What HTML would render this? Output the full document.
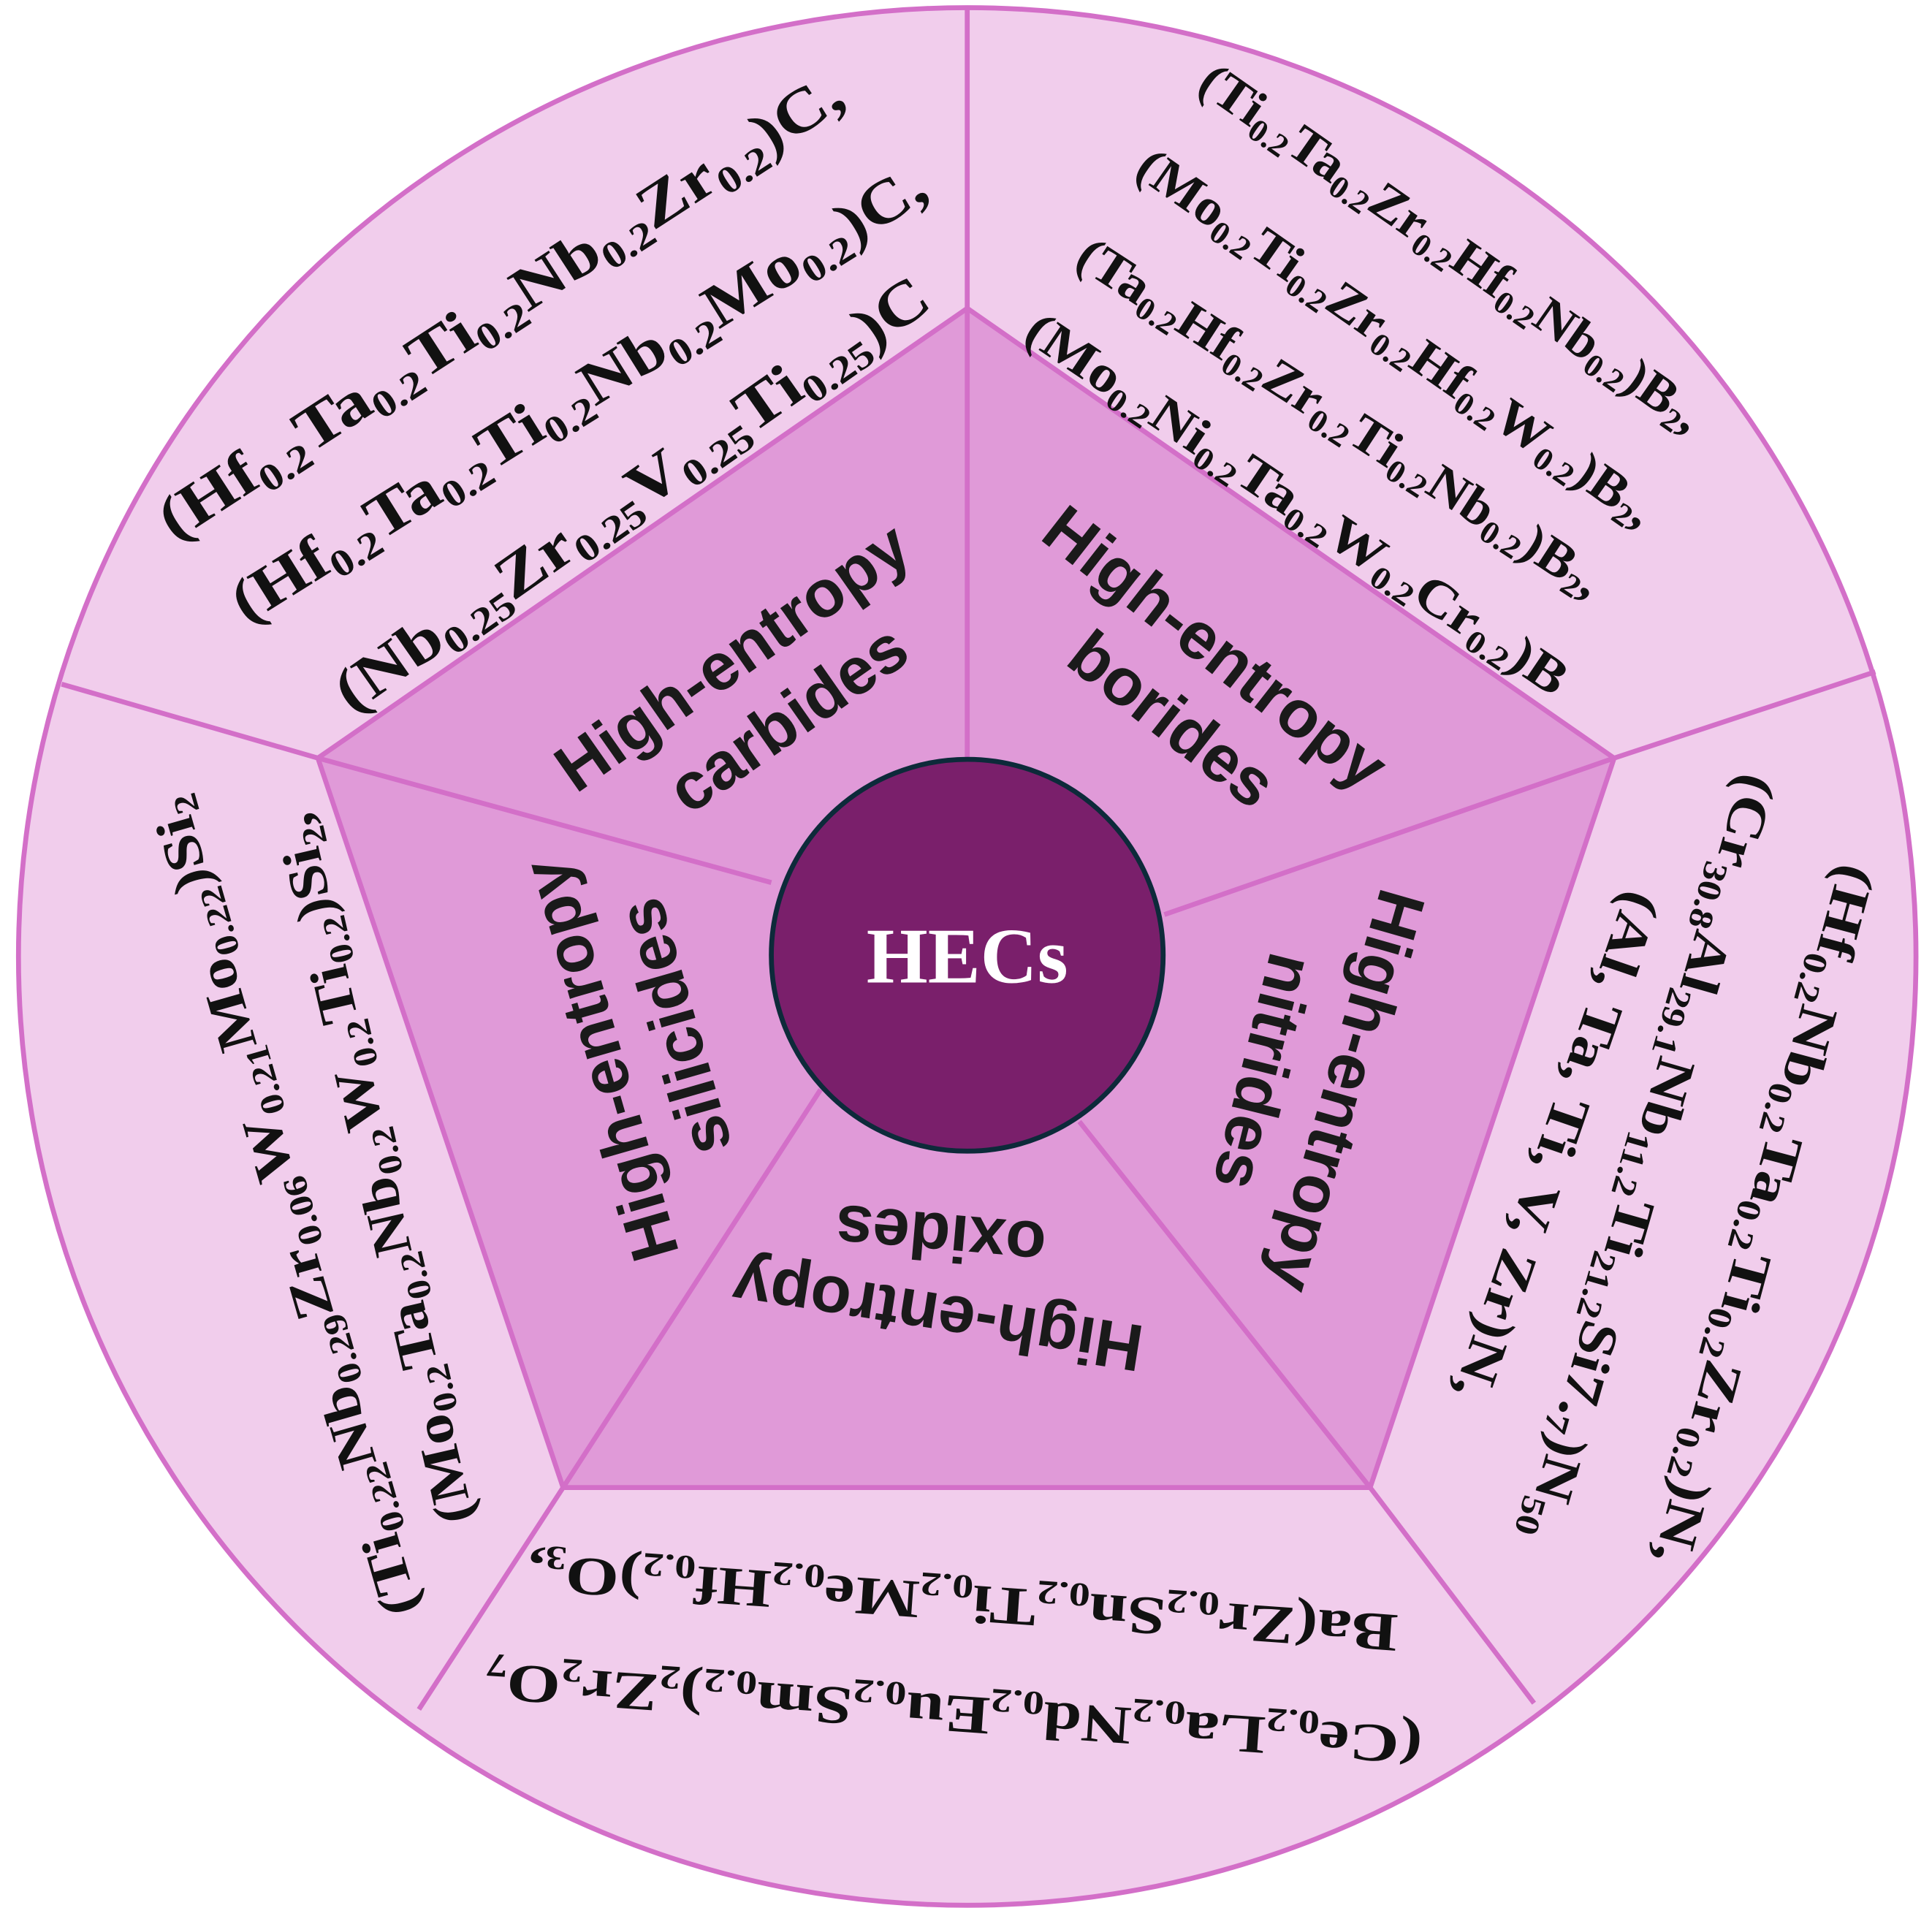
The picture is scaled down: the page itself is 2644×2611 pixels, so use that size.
<!DOCTYPE html>
<html><head><meta charset="utf-8">
<style>
html,body{margin:0;padding:0;background:#fff;}
svg{display:block;}
.f{font-family:"Liberation Serif",serif;font-weight:bold;fill:#111;}
.g{font-family:"Liberation Sans",sans-serif;font-weight:bold;fill:#1a1a1a;font-size:54px;}
.s{font-size:0.62em;baseline-shift:-0.28em;}
</style></head>
<body>
<svg width="2644" height="2611" viewBox="0 0 1568 1548" xmlns="http://www.w3.org/2000/svg">
<rect width="1568" height="1548" fill="#fff"/>
<circle cx="785" cy="776" r="770" fill="#f1cdec" stroke="#d36fc8" stroke-width="4"/>
<g stroke="#d36fc8" stroke-width="4">
<line x1="785" y1="250" x2="785" y2="6"/>
<line x1="1310" y1="615" x2="1522" y2="545"/>
<line x1="1112" y1="1207" x2="1245" y2="1382"/>
<line x1="457" y1="1207" x2="340" y2="1387"/>
<line x1="258" y1="615" x2="50" y2="555"/>
</g>
<polygon points="785,250 1310,615 1112,1207 457,1207 258,615" fill="#e09ad8" stroke="#d36fc8" stroke-width="4"/>
<g stroke="#d36fc8" stroke-width="4">
<line x1="785" y1="250" x2="785" y2="616"/>
<line x1="1310" y1="615" x2="945" y2="742"/>
<line x1="1112" y1="1207" x2="876" y2="910"/>
<line x1="457" y1="1207" x2="666" y2="884"/>
<line x1="258" y1="615" x2="626" y2="716"/>
</g>
<circle cx="785" cy="775" r="159" fill="#7a1f6b" stroke="#0d2a3a" stroke-width="4"/>
<text x="785" y="797" text-anchor="middle" font-family="Liberation Serif,serif" font-weight="bold" font-size="64" fill="#fff">HECs</text>

<g class="f" font-size="50">
<text transform="translate(415,262) rotate(-33)" text-anchor="middle" textLength="652" lengthAdjust="spacingAndGlyphs">(Hf<tspan class="s">0.2</tspan>Ta<tspan class="s">0.2</tspan>Ti<tspan class="s">0.2</tspan>Nb<tspan class="s">0.2</tspan>Zr<tspan class="s">0.2</tspan>)C,</text>
<text transform="translate(478,333) rotate(-32)" text-anchor="middle" textLength="655" lengthAdjust="spacingAndGlyphs">(Hf<tspan class="s">0.2</tspan>Ta<tspan class="s">0.2</tspan>Ti<tspan class="s">0.2</tspan>Nb<tspan class="s">0.2</tspan>Mo<tspan class="s">0.2</tspan>)C,</text>
<text transform="translate(522,414) rotate(-35)" text-anchor="middle" textLength="577" lengthAdjust="spacingAndGlyphs">(Nb<tspan class="s">0.25</tspan>Zr<tspan class="s">0.25</tspan>V<tspan class="s">0.25</tspan>Ti<tspan class="s">0.25</tspan>)C</text>
</g>
<g class="f" font-size="42">
<text transform="translate(1170,212) rotate(35)" text-anchor="middle" textLength="488" lengthAdjust="spacingAndGlyphs">(Ti<tspan class="s">0.2</tspan>Ta<tspan class="s">0.2</tspan>Zr<tspan class="s">0.2</tspan>Hf<tspan class="s">0.2</tspan>Nb<tspan class="s">0.2</tspan>)B<tspan class="s">2</tspan>,</text>
<text transform="translate(1125,285) rotate(35)" text-anchor="middle" textLength="502" lengthAdjust="spacingAndGlyphs">(Mo<tspan class="s">0.2</tspan>Ti<tspan class="s">0.2</tspan>Zr<tspan class="s">0.2</tspan>Hf<tspan class="s">0.2</tspan>W<tspan class="s">0.2</tspan>)B<tspan class="s">2</tspan>,</text>
<text transform="translate(1080,350) rotate(33)" text-anchor="middle" textLength="499" lengthAdjust="spacingAndGlyphs">(Ta<tspan class="s">0.2</tspan>Hf<tspan class="s">0.2</tspan>Zr<tspan class="s">0.2</tspan>Ti<tspan class="s">0.2</tspan>Nb<tspan class="s">0.2</tspan>)B<tspan class="s">2</tspan>,</text>
<text transform="translate(1045,420) rotate(34)" text-anchor="middle" textLength="521" lengthAdjust="spacingAndGlyphs">(Mo<tspan class="s">0.2</tspan>Ni<tspan class="s">0.2</tspan>Ta<tspan class="s">0.2</tspan>W<tspan class="s">0.2</tspan>Cr<tspan class="s">0.2</tspan>)B</text>
</g>
<g class="f" font-size="44">
<text transform="translate(1418,982) rotate(105)" text-anchor="middle" textLength="586" lengthAdjust="spacingAndGlyphs">(Hf<tspan class="s">0.2</tspan>Nb<tspan class="s">0.2</tspan>Ta<tspan class="s">0.2</tspan>Ti<tspan class="s">0.2</tspan>Zr<tspan class="s">0.2</tspan>)N,</text>
<text transform="translate(1325,935) rotate(106)" text-anchor="middle" textLength="644" lengthAdjust="spacingAndGlyphs">(Cr<tspan class="s">30.8</tspan>Al<tspan class="s">29.1</tspan>Nb<tspan class="s">11.2</tspan>Ti<tspan class="s">21.2</tspan>Si7.<tspan class="s">7</tspan>)N<tspan class="s">50</tspan></text>
<text transform="translate(1250,925) rotate(109)" text-anchor="middle" textLength="433" lengthAdjust="spacingAndGlyphs">(Al, Ta, Ti, V, Zr)N,</text>
</g>
<g class="f" font-size="44">
<text transform="translate(782,1286) rotate(184)" text-anchor="middle" textLength="708" lengthAdjust="spacingAndGlyphs">Ba(Zr<tspan class="s">0.2</tspan>Sn<tspan class="s">0.2</tspan>Ti<tspan class="s">0.2</tspan>Me<tspan class="s">0.2</tspan>Hf<tspan class="s">0.2</tspan>)O<tspan class="s">3</tspan>,</text>
<text transform="translate(775,1376) rotate(184)" text-anchor="middle" textLength="762" lengthAdjust="spacingAndGlyphs">(Ce<tspan class="s">0.2</tspan>La<tspan class="s">0.2</tspan>Nd<tspan class="s">0.2</tspan>Eu<tspan class="s">0.2</tspan>Sm<tspan class="s">0.2</tspan>)<tspan class="s">2</tspan>Zr<tspan class="s">2</tspan>O<tspan class="s">7</tspan></text>
</g>
<g class="f" font-size="44">
<text transform="translate(245,975) rotate(-106)" text-anchor="middle" textLength="689" lengthAdjust="spacingAndGlyphs">(Ti<tspan class="s">0.22</tspan>Nb<tspan class="s">0.29</tspan>Zr<tspan class="s">0.06</tspan>W<tspan class="s">0.21</tspan>Mo<tspan class="s">0.22</tspan>)Si<tspan class="s">2</tspan></text>
<text transform="translate(318,945) rotate(-103)" text-anchor="middle" textLength="590" lengthAdjust="spacingAndGlyphs">(Mo<tspan class="s">0.2</tspan>Ta<tspan class="s">0.2</tspan>Nb<tspan class="s">0.2</tspan>W<tspan class="s">0.2</tspan>Ti<tspan class="s">0.2</tspan>)Si<tspan class="s">2</tspan>,</text>
</g>

<g class="g">
<text transform="translate(605,548) rotate(-35)" text-anchor="middle">High-entropy</text>
<text transform="translate(650,598) rotate(-35)" text-anchor="middle">carbides</text>
<text transform="translate(975,540) rotate(38)" text-anchor="middle">High-entropy</text>
<text transform="translate(940,598) rotate(38)" text-anchor="middle">borides</text>
<text transform="translate(1075,880) rotate(106)" text-anchor="middle">High-entropy</text>
<text transform="translate(1008,865) rotate(104)" text-anchor="middle">nitrides</text>
<text transform="translate(764,1050) rotate(189)" text-anchor="middle">High-entropy</text>
<text transform="translate(765,985) rotate(185)" text-anchor="middle">oxides</text>
<text transform="translate(505,855) rotate(-106)" text-anchor="middle">High-entropy</text>
<text transform="translate(565,828) rotate(-106)" text-anchor="middle">silicides</text>
</g>
</svg>
</body></html>
